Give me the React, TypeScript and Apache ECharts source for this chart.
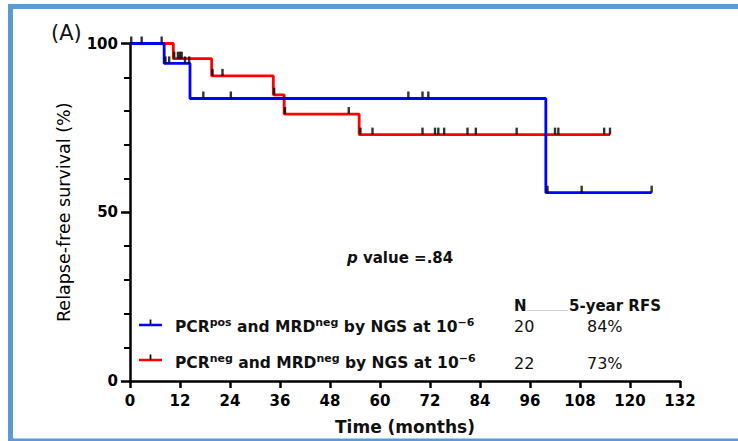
import React, { useEffect, useRef } from "react";
import * as echarts from "echarts";

// Kaplan-Meier step data (time in months, survival %)
const blueTimes = [0, 8.2, 14.4, 99.8, 125.2];
const blueSurv = [100, 94.1, 83.7, 55.8, 55.8];
const blueCensor = [0.3, 2.8, 7.6, 8.5, 9.4, 13.2, 14.2, 17.6, 24.2, 66.8, 70.2, 71.6, 100.2, 108.4, 125.2];

const redTimes = [0, 10.4, 19.6, 34.4, 37.0, 55.0, 115.2];
const redSurv = [100, 95.5, 90.4, 84.8, 79.1, 73.0, 73.0];
const redCensor = [10.6, 11.5, 12.0, 12.4, 19.8, 22.2, 34.6, 37.2, 52.5, 55.3, 58.2, 70.2, 73.2, 74.0, 75.4, 81.0, 83.0, 92.8, 102.0, 102.8, 113.8, 115.2];

const groupN = ["20", "22"];
const groupRFS = ["84%", "73%"];
const groupLabels = [
  "{b|PCR}{s|pos}{b| and MRD}{s|neg}{b| by NGS at 10}{s|\u22126}",
  "{b|PCR}{s|neg}{b| and MRD}{s|neg}{b| by NGS at 10}{s|\u22126}",
];
const groupColors = ["#0000ff", "#ff0000"];

const FONT = "DejaVu Sans";

function survAt(times: number[], surv: number[], t: number): number {
  let v = surv[0];
  for (let i = 0; i < times.length; i++) {
    if (times[i] <= t) v = surv[i];
  }
  return v;
}

export default function App() {
  const ref = useRef<HTMLDivElement>(null);
  useEffect(() => {
    if (!ref.current) return;
    const chart = echarts.init(ref.current, undefined, { renderer: "svg" });
    const censorPts = [
      ...redCensor.map((t) => [t, survAt(redTimes, redSurv, t)]),
      ...blueCensor.map((t) => [t, survAt(blueTimes, blueSurv, t)]),
    ];
    const frameColor = "#5b9bd5";
    const legendRows = [325, 360];
    const textRows = [326.5, 363];
    const graphic: any[] = [
      { type: "rect", shape: { x: 8, y: 4, width: 5, height: 437 }, style: { fill: frameColor }, silent: true },
      { type: "rect", shape: { x: 8, y: 4, width: 730, height: 5 }, style: { fill: frameColor }, silent: true },
      { type: "rect", shape: { x: 8, y: 438.5, width: 730, height: 2.5 }, style: { fill: frameColor }, silent: true },
      {
        type: "text", x: 51, y: 33,
        style: { text: "(A)", fontFamily: FONT, fontSize: 21, fill: "#111", align: "left", verticalAlign: "middle" },
      },
      {
        type: "text", x: 347, y: 258,
        style: {
          text: "{i|p}{b| value =.84}", align: "left", verticalAlign: "middle",
          rich: {
            i: { fontFamily: FONT, fontSize: 15, fontWeight: "bold", fontStyle: "italic", fill: "#111" },
            b: { fontFamily: FONT, fontSize: 15, fontWeight: "bold", fill: "#111" },
          },
        },
      },
      {
        type: "text", x: 514, y: 306,
        style: { text: "N", fontFamily: FONT, fontSize: 15, fontWeight: "bold", fill: "#111", align: "left", verticalAlign: "middle" },
      },
      {
        type: "text", x: 569, y: 306,
        style: { text: "5-year RFS", fontFamily: FONT, fontSize: 15, fontWeight: "bold", fill: "#111", align: "left", verticalAlign: "middle" },
      },
      { type: "line", shape: { x1: 527, y1: 310.5, x2: 568, y2: 310.5 }, style: { stroke: "#d0d0d0", lineWidth: 1 } },
    ];
    groupLabels.forEach((lab, i) => {
      const y = legendRows[i];
      graphic.push(
        { type: "line", shape: { x1: 139, y1: y, x2: 162, y2: y }, style: { stroke: groupColors[i], lineWidth: 2.5 } },
        { type: "line", shape: { x1: 150.5, y1: y - 5.5, x2: 150.5, y2: y }, style: { stroke: "#111", lineWidth: 1.8 } },
        {
          type: "text", x: 175, y: textRows[i],
          style: {
            text: lab, align: "left", verticalAlign: "middle",
            rich: {
              b: { fontFamily: FONT, fontSize: 15.5, fontWeight: "bold", fill: "#111", lineHeight: 20 },
              s: { fontFamily: FONT, fontSize: 11, fontWeight: "bold", fill: "#111", lineHeight: 10, verticalAlign: "top" },
            },
          },
        },
        {
          type: "text", x: 514, y: textRows[i],
          style: { text: groupN[i], fontFamily: FONT, fontSize: 16, fill: "#111", align: "left", verticalAlign: "middle" },
        },
        {
          type: "text", x: 587, y: textRows[i],
          style: { text: groupRFS[i], fontFamily: FONT, fontSize: 16, fill: "#111", align: "left", verticalAlign: "middle" },
        }
      );
    });

    const option: any = {
      animation: false,
      backgroundColor: "#ffffff",
      grid: { left: 130, right: 58, top: 43.5, bottom: 60, containLabel: false },
      xAxis: {
        type: "value", min: 0, max: 132, interval: 12,
        name: "Time (months)", nameLocation: "middle", nameGap: 37,
        nameTextStyle: { fontFamily: FONT, fontSize: 17, fontWeight: "bold", color: "#111" },
        axisLine: { show: true, onZero: false, lineStyle: { color: "#000", width: 2.5 } },
        axisTick: { show: true, length: 7, lineStyle: { color: "#000", width: 2.5 } },
        axisLabel: { fontFamily: FONT, fontSize: 15, fontWeight: "bold", color: "#000", margin: 12 },
        splitLine: { show: false },
      },
      yAxis: {
        type: "value", min: 0, max: 100, interval: 50,
        name: "Relapse-free survival (%)", nameLocation: "middle", nameGap: 57,
        nameTextStyle: { fontFamily: FONT, fontSize: 17.5, color: "#000" },
        axisLine: { show: true, onZero: false, lineStyle: { color: "#000", width: 2.5 } },
        axisTick: { show: true, length: 9, lineStyle: { color: "#000", width: 2.5 } },
        minorTick: { show: true, splitNumber: 5, length: 6, lineStyle: { color: "#000", width: 2 } },
        axisLabel: { fontFamily: FONT, fontSize: 15, fontWeight: "bold", color: "#000", margin: 12 },
        splitLine: { show: false },
        minorSplitLine: { show: false },
      },
      series: [
        {
          type: "line", step: "end", data: redTimes.map((t, i) => [t, redSurv[i]]),
          symbol: "none", lineStyle: { color: groupColors[1], width: 2.8 }, z: 2,
        },
        {
          type: "line", step: "end", data: blueTimes.map((t, i) => [t, blueSurv[i]]),
          symbol: "none", lineStyle: { color: groupColors[0], width: 2.8 }, z: 3,
        },
        {
          type: "scatter", data: censorPts, symbol: "rect", symbolSize: [2.4, 7], symbolOffset: [0, -3.5],
          itemStyle: { color: "#000" }, z: 4,
        },
      ],
      graphic,
    };
    chart.setOption(option);
    return () => chart.dispose();
  }, []);
  return <div ref={ref} style={{ position: "fixed", left: 0, top: 0, width: 738, height: 441 }} />;
}
